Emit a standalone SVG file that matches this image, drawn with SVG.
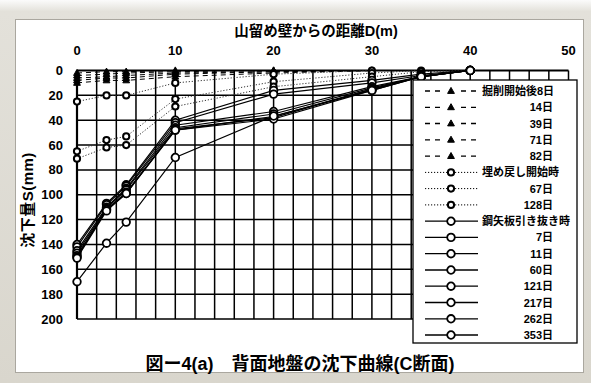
<svg xmlns="http://www.w3.org/2000/svg" xmlns:xlink="http://www.w3.org/1999/xlink" width="591" height="383" viewBox="0 0 591 383">
<style>
.t{font-family:"Liberation Sans","Noto Sans CJK JP",sans-serif;font-weight:bold;fill:#000}
.g{stroke:#000;stroke-width:1.5;fill:none}
.sol{stroke:#000;stroke-width:1.2;fill:none;marker-start:url(#mc);marker-mid:url(#mc);marker-end:url(#mc)}
.dot{stroke:#333;stroke-width:1;stroke-dasharray:1.2 1.8;fill:none;marker-start:url(#md);marker-mid:url(#md);marker-end:url(#md)}
.dsh{stroke:#000;stroke-width:1;stroke-dasharray:5 4;fill:none;marker-start:url(#mt);marker-mid:url(#mt);marker-end:url(#mt)}
.ls{stroke:#000;stroke-width:1.3;fill:none}
.ld{stroke:#000;stroke-width:1;stroke-dasharray:1.2 1.8;fill:none}
</style>
<defs>
<linearGradient id="bg" x1="0" y1="0" x2="0" y2="1">
<stop offset="0" stop-color="#fbfbfb"/><stop offset="0.03" stop-color="#e3e1da"/><stop offset="1" stop-color="#d9d6cd"/>
</linearGradient>
<marker id="mc" markerWidth="12" markerHeight="12" refX="6" refY="6" markerUnits="userSpaceOnUse"><circle cx="6" cy="6" r="3.8" fill="#fff" stroke="#000" stroke-width="1.8"/></marker>
<marker id="md" markerWidth="12" markerHeight="12" refX="6" refY="6" markerUnits="userSpaceOnUse"><circle cx="6" cy="6" r="3.1" fill="#fff" stroke="#000" stroke-width="2"/></marker>
<marker id="mt" markerWidth="12" markerHeight="12" refX="6" refY="6" markerUnits="userSpaceOnUse"><path d="M6,2.4 L9.4,8.4 L2.6,8.4 Z" fill="#000" stroke="#000" stroke-width="1"/></marker>
<path id="tri" d="M0,-3.6 L3.4,2.4 L-3.4,2.4 Z" fill="#000" stroke="#000" stroke-width="1"/>
<circle id="oc" r="3.8" fill="#fff" stroke="#000" stroke-width="1.8"/>
<circle id="dc" r="3.1" fill="#fff" stroke="#000" stroke-width="2"/>
</defs>

<g id="frame">
<rect width="591" height="383" fill="url(#bg)"/>
<rect x="15.5" y="19.5" width="568" height="353" fill="#fff" stroke="#aaa79f"/>
</g>

<g id="grid">
<path class="g" d="M96.66,70.5V319M116.32,70.5V319M135.98,70.5V319M155.64,70.5V319M175.3,70.5V319M194.96,70.5V319M214.62,70.5V319M234.28,70.5V319M253.94,70.5V319M273.6,70.5V319M293.26,70.5V319M312.92,70.5V319M332.58,70.5V319M352.24,70.5V319M371.9,70.5V319M391.56,70.5V319M411.22,70.5V319M430.88,70.5V319M450.54,70.5V319M470.2,70.5V319M489.86,70.5V319M509.52,70.5V319M529.18,70.5V319M548.84,70.5V319M568.5,70.5V319"/>
<path class="g" d="M77,95.35H568.5M77,120.2H568.5M77,145.05H568.5M77,169.9H568.5M77,194.75H568.5M77,219.6H568.5M77,244.45H568.5M77,269.3H568.5M77,294.15H568.5M77,319H568.5"/>
<path d="M77,70.5H568.5M77,70.5V319" stroke="#000" stroke-width="2.2" fill="none"/>
</g>

<g id="axes">
<text class="t" x="316" y="36" font-size="14.5" text-anchor="middle">山留め壁からの距離D(m)</text>
<g class="t" font-size="13" text-anchor="middle">
<text x="77" y="55">0</text><text x="175.3" y="55">10</text><text x="273.6" y="55">20</text><text x="371.9" y="55">30</text><text x="470.2" y="55">40</text><text x="568.5" y="55">50</text>
</g>
<g class="t" font-size="13" text-anchor="end">
<text x="63" y="75">0</text><text x="63" y="99.8">20</text><text x="63" y="124.7">40</text><text x="63" y="149.5">60</text><text x="63" y="174.4">80</text><text x="63" y="199.2">100</text><text x="63" y="224.1">120</text><text x="63" y="248.9">140</text><text x="63" y="273.8">160</text><text x="63" y="298.6">180</text><text x="63" y="323.5">200</text>
</g>
<text class="t" font-size="15" text-anchor="middle" transform="translate(33,200) rotate(-90)" letter-spacing="0.5">沈下量S(mm)</text>
</g>

<g id="connectors">
<polyline class="dsh" points="77,73 106.5,71.7 126.2,71.7 175.3,70.5 273.6,70.5"/>
<polyline class="dsh" points="77,75.5 106.5,74.2 126.2,73 175.3,71.7 273.6,70.5"/>
<polyline class="dsh" points="77,78 106.5,76.7 126.2,75.5 175.3,73 273.6,71.7 371.9,70.5"/>
<polyline class="dsh" points="77,80.4 106.5,78 126.2,78 175.3,74.2 273.6,71.7 371.9,70.5"/>
<polyline class="dsh" points="77,82.9 106.5,80.4 126.2,80.4 175.3,76.7 273.6,73 371.9,70.5"/>
<polyline class="dot" points="77,101.6 106.5,95.4 126.2,95.4 175.3,82.9 273.6,74.2 371.9,70.5"/>
<polyline class="dot" points="77,151.3 106.5,140.1 126.2,136.4 175.3,99.1 273.6,81.7 371.9,73 421.1,70.5"/>
<polyline class="dot" points="77,158.7 106.5,147.5 126.2,145.1 175.3,106.5 273.6,86.7 371.9,76.7 421.1,71.7 470.2,70.5"/>
<polyline class="sol" points="77,244.5 106.5,203.4 126.2,184.8 175.3,120.2 273.6,90.4 371.9,80.4 421.1,74.2 470.2,70.5"/>
<polyline class="sol" points="77,246.9 106.5,204.7 126.2,186.1 175.3,122.7 273.6,94.1 371.9,82.9 421.1,75.5 470.2,70.5"/>
<polyline class="sol" points="77,250.7 106.5,207.2 126.2,188.5 175.3,125.2 273.6,111.5 371.9,86.7 421.1,76.7 470.2,70.5"/>
<polyline class="sol" points="77,253.1 106.5,208.4 126.2,189.8 175.3,127.7 273.6,114 371.9,87.9 421.1,76.7 470.2,70.5"/>
<polyline class="sol" points="77,255.6 106.5,209.7 126.2,192.3 175.3,130.1 273.6,116.5 371.9,89.1 421.1,76.7 470.2,70.5"/>
<polyline class="sol" points="77,256.9 106.5,209.7 126.2,193.5 175.3,128.9 273.6,117.7 371.9,89.1 421.1,76.7 470.2,70.5"/>
<polyline class="sol" points="77,258.1 106.5,210.9 126.2,193.5 175.3,130.1 273.6,119 371.9,90.4 421.1,76.7 470.2,70.5"/>
<polyline class="sol" points="77,281.7 106.5,243.2 126.2,222.1 175.3,157.5 273.6,116 371.9,90.4 421.1,76.7 470.2,70.5"/>
</g>

<g id="legend">
<rect x="413" y="80" width="164" height="263" fill="#fff" stroke="#000" stroke-width="1.3"/>
<g class="t" font-size="11">
<text x="482" y="95">掘削開始後8日</text>
<text x="553" y="111.3" text-anchor="end">14日</text>
<text x="553" y="127.5" text-anchor="end">39日</text>
<text x="553" y="143.8" text-anchor="end">71日</text>
<text x="553" y="160.1" text-anchor="end">82日</text>
<text x="482" y="176.4">埋め戻し開始時</text>
<text x="553" y="192.6" text-anchor="end">67日</text>
<text x="553" y="208.9" text-anchor="end">128日</text>
<text x="482" y="225.2">鋼矢板引き抜き時</text>
<text x="553" y="241.4" text-anchor="end">7日</text>
<text x="553" y="257.7" text-anchor="end">11日</text>
<text x="553" y="274" text-anchor="end">60日</text>
<text x="553" y="290.2" text-anchor="end">121日</text>
<text x="553" y="306.5" text-anchor="end">217日</text>
<text x="553" y="322.8" text-anchor="end">262日</text>
<text x="553" y="339" text-anchor="end">353日</text>
</g>
<path class="ls" d="M425,91h5m5,0h5M461,91h5m5,0h5M425,107.3h5m5,0h5M461,107.3h5m5,0h5M425,123.5h5m5,0h5M461,123.5h5m5,0h5M425,139.8h5m5,0h5M461,139.8h5m5,0h5M425,156.1h5m5,0h5M461,156.1h5m5,0h5"/>
<use xlink:href="#tri" href="#tri" x="451" y="91"/>
<use xlink:href="#tri" href="#tri" x="451" y="107.3"/>
<use xlink:href="#tri" href="#tri" x="451" y="123.5"/>
<use xlink:href="#tri" href="#tri" x="451" y="139.8"/>
<use xlink:href="#tri" href="#tri" x="451" y="156.1"/>
<path class="ld" d="M425,172.4H478M425,188.6H478M425,204.9H478"/>
<use xlink:href="#dc" href="#dc" x="451" y="172.4"/>
<use xlink:href="#dc" href="#dc" x="451" y="188.6"/>
<use xlink:href="#dc" href="#dc" x="451" y="204.9"/>
<path class="ls" d="M425,221.2H478M425,237.4H478M425,253.7H478M425,270H478M425,286.2H478M425,302.5H478M425,318.8H478M425,335H478"/>
<use xlink:href="#oc" href="#oc" x="451" y="221.2"/>
<use xlink:href="#oc" href="#oc" x="451" y="237.4"/>
<use xlink:href="#oc" href="#oc" x="451" y="253.7"/>
<use xlink:href="#oc" href="#oc" x="451" y="270"/>
<use xlink:href="#oc" href="#oc" x="451" y="286.2"/>
<use xlink:href="#oc" href="#oc" x="451" y="302.5"/>
<use xlink:href="#oc" href="#oc" x="451" y="318.8"/>
<use xlink:href="#oc" href="#oc" x="451" y="335"/>
</g>

<text id="caption" class="t" x="300" y="370" font-size="18" text-anchor="middle">図ー4(a)　背面地盤の沈下曲線(C断面)</text>
</svg>
